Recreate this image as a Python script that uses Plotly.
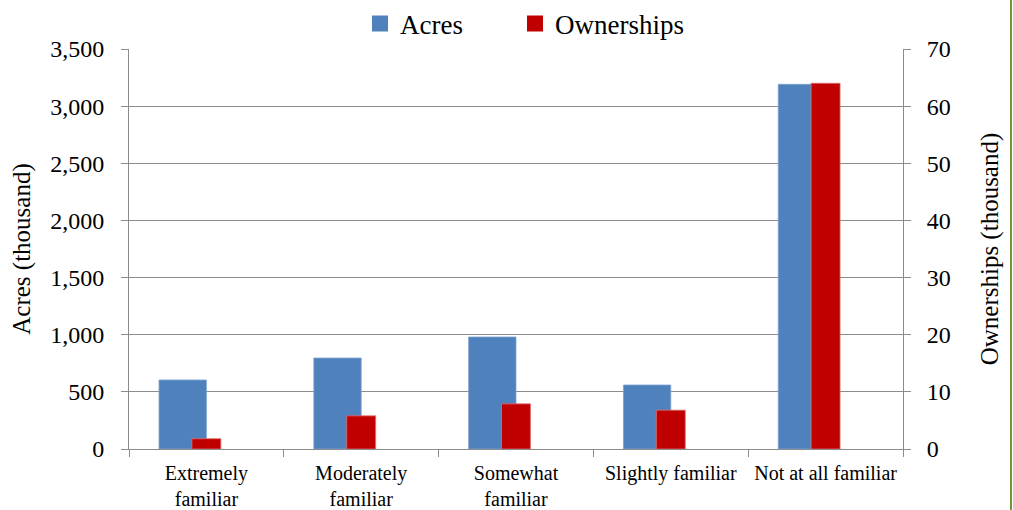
import plotly.graph_objects as go

categories = ["Extremely<br>familiar", "Moderately<br>familiar", "Somewhat<br>familiar",
              "Slightly familiar", "Not at all familiar"]
acres = [604, 796, 980, 560, 3191]          # thousand acres
ownerships = [1.8, 5.8, 7.9, 6.8, 64.0]     # thousand ownerships

FONT = "Liberation Serif, Times New Roman, serif"
BLUE = "#4F81BD"
RED = "#C00000"
GRID = "#8C8C8C"

fig = go.Figure()
fig.add_trace(go.Bar(x=categories, y=acres, name="Acres", marker=dict(color=BLUE, line=dict(color="#7FA3D0", width=0.8)),
                     width=0.306, offset=-0.306, yaxis="y", showlegend=False))
fig.add_trace(go.Bar(x=categories, y=ownerships, name="Ownerships", marker=dict(color=RED, line=dict(color="#E07070", width=0.8)),
                     width=0.187, offset=-0.0935, yaxis="y2", showlegend=False))
# legend entries
fig.add_trace(go.Scatter(x=[None], y=[None], mode="markers", name="Acres", legend="legend",
                         marker=dict(symbol="square", size=16, color=BLUE)))
fig.add_trace(go.Scatter(x=[None], y=[None], mode="markers", name="Ownerships", legend="legend2",
                         marker=dict(symbol="square", size=16, color=RED)))

leg_common = dict(orientation="h", xanchor="left", y=1 + (49 - 24) / 400, yanchor="middle",
                  font=dict(size=27), itemclick=False, bgcolor="rgba(0,0,0,0)")

fig.update_layout(
    width=1013, height=510,
    margin=dict(l=129, r=110, t=49, b=61, autoexpand=False),
    paper_bgcolor="white", plot_bgcolor="white",
    font=dict(family=FONT, color="#000000"),
    barmode="overlay",
    legend=dict(x=(380 - 129 - 20) / 774, **leg_common),
    legend2=dict(x=(535 - 129 - 20) / 774, **leg_common),
    xaxis=dict(type="category", showline=True, linecolor=GRID, linewidth=1,
               ticks="outside", tickson="boundaries", ticklen=7, tickcolor=GRID,
               tickfont=dict(size=20), showgrid=False, zeroline=False, ticklabelstandoff=6,
               automargin=False),
    yaxis=dict(range=[0, 3500], dtick=500, tickformat=",", showline=True, linecolor=GRID,
               ticks="outside", ticklen=7, tickcolor=GRID, showgrid=True, gridcolor=GRID,
               gridwidth=1, zeroline=False, tickfont=dict(size=24), ticklabelstandoff=12,
               automargin=False,
               title=dict(text="Acres (thousand)", font=dict(size=25), standoff=12)),
    yaxis2=dict(range=[0, 70], dtick=10, overlaying="y", side="right", showline=True,
                linecolor=GRID, ticks="outside", ticklen=7, tickcolor=GRID, showgrid=False,
                zeroline=False, tickfont=dict(size=24), ticklabelstandoff=11, automargin=False,
                title=dict(text="Ownerships (thousand)", font=dict(size=25), standoff=30)),
    shapes=[dict(type="line", xref="paper", yref="paper", x0=1.1395, x1=1.1395, y0=-0.2, y1=1.2,
                 layer="above", line=dict(color="#77933C", width=2))],
)

fig.write_html("out.html", config={"displayModeBar": False},
               post_script="document.body.style.margin='0';")
